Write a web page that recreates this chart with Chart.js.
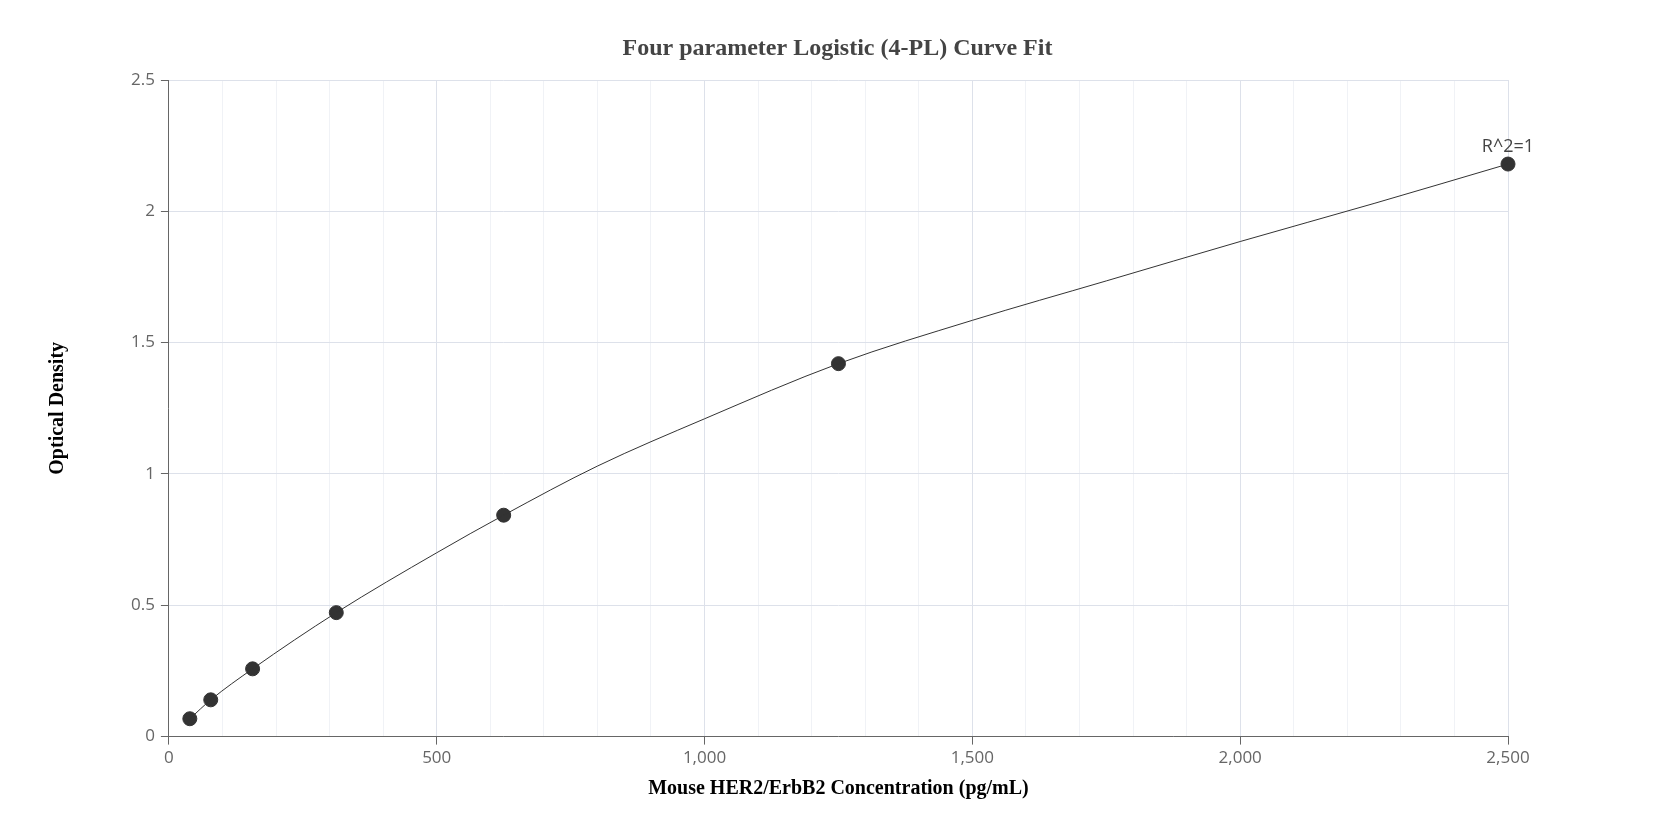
<!DOCTYPE html>
<html><head><meta charset="utf-8">
<script src="https://cdn.jsdelivr.net/npm/chart.js@4/dist/chart.umd.min.js"></script>
<style>html,body{margin:0;padding:0;background:#fff}#w{width:1675px;height:840px}</style>
</head><body><div id="w"><canvas id="c"></canvas></div>
<script>
const stdX = [39.06, 78.125, 156.25, 312.5, 625, 1250, 2500];
const stdY = [0.068, 0.14, 0.258, 0.472, 0.843, 1.42, 2.18];
const curveX = [39.06, 78.125, 156.25, 312.5, 500, 625, 800, 1000, 1250, 1500, 1750, 2000, 2250, 2500];
const curveY = [0.068, 0.14, 0.258, 0.472, 0.70, 0.843, 1.03, 1.21, 1.42, 1.585, 1.735, 1.885, 2.03, 2.18];
const xTicks = [0, 500, 1000, 1500, 2000, 2500];
const yTicks = [0, 0.5, 1, 1.5, 2, 2.5];
const r2Label = 'R^2=1';
const titleText = 'Four parameter Logistic (4-PL) Curve Fit';

const labelPlugin = {id:'r2', afterDatasetsDraw(ch){
  const m = ch.getDatasetMeta(1); const p = m.data[m.data.length-1];
  const ctx = ch.ctx; ctx.save(); ctx.font='18px "Open Sans"'; ctx.fillStyle='#444';
  ctx.textAlign='center'; ctx.textBaseline='bottom'; ctx.fillText(r2Label, p.x, p.y-8);
  ctx.font='bold 24px "Liberation Serif"'; ctx.textBaseline='middle'; ctx.fillStyle='#444';
  ctx.fillText(titleText, ch.width/2, 49);
  ctx.restore();
}};
new Chart(document.getElementById('c'), {
  type:'scatter',
  data:{datasets:[
    {data:curveX.map((x,i)=>({x, y:curveY[i]})), showLine:true, borderColor:'#333', borderWidth:1, pointRadius:0, cubicInterpolationMode:'monotone', fill:false},
    {data:stdX.map((x,i)=>({x, y:stdY[i]})), pointRadius:7, pointBackgroundColor:'#333', pointBorderColor:'#333', showLine:false, clip:false}
  ]},
  options:{responsive:true, maintainAspectRatio:false, animation:false,
    layout:{padding:{left:42, right:167, top:80, bottom:35}},
    plugins:{legend:{display:false}, tooltip:{enabled:false}, title:{display:false}},
    scales:{
      x:{type:'linear', min:0, max:2500, afterBuildTicks(s){s.ticks=[];for(let v=0;v<=2500;v+=100)s.ticks.push({value:v});},
        ticks:{autoSkip:false, maxRotation:0, color:'#666', font:{family:'Open Sans', size:17}, callback:v=>xTicks.includes(v)?v.toLocaleString('en-US'):''},
        grid:{color:c=>xTicks.includes(c.tick.value)?'#dde1ea':'#f0f2f6', tickLength:8, tickColor:c=>xTicks.includes(c.tick.value)?'#666':'rgba(0,0,0,0)'},
        border:{color:'#666'},
        title:{display:true, text:'Mouse HER2/ErbB2 Concentration (pg/mL)', color:'#000', font:{family:'Liberation Serif', size:20, weight:'bold'}, padding:{top:6}}},
      y:{min:0, max:2.5, afterBuildTicks(s){s.ticks=yTicks.map(v=>({value:v}));},
        ticks:{color:'#666', font:{family:'Open Sans', size:17}, padding:6, callback:v=>String(v)},
        grid:{color:'#dde1ea', tickLength:8, tickColor:'#666'},
        border:{color:'#666'},
        title:{display:true, text:'Optical Density', color:'#000', font:{family:'Liberation Serif', size:20, weight:'bold'}, padding:{bottom:55}}}
    }},
  plugins:[labelPlugin]
});
</script></body></html>
